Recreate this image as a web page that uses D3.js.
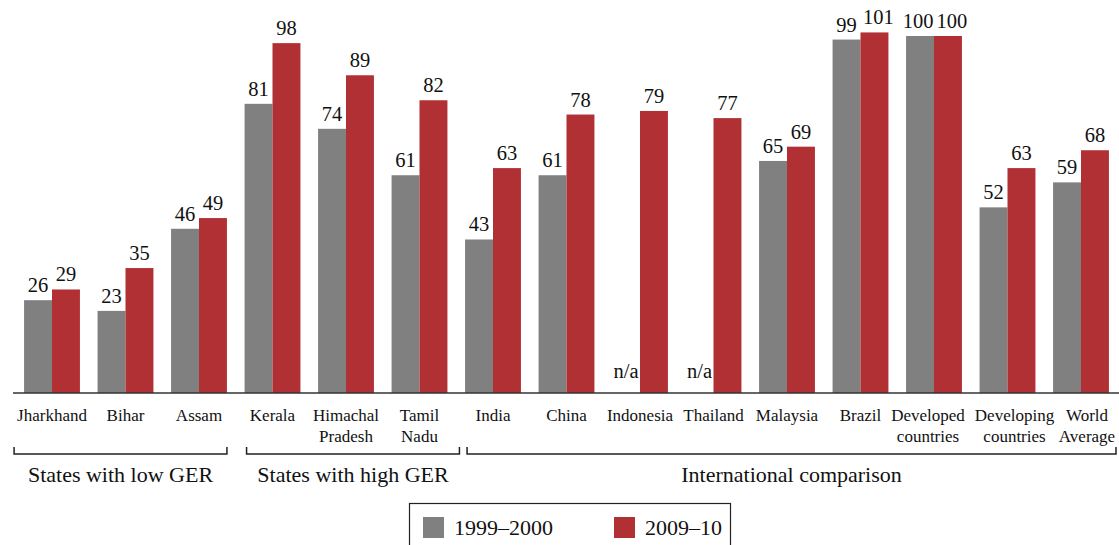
<!DOCTYPE html>
<html>
<head>
<meta charset="utf-8">
<script src="https://cdn.jsdelivr.net/npm/d3@7"></script>
<style>
  body { margin: 0; background: #fff; }
</style>
</head>
<body>
<svg id="chart" width="1119" height="545"></svg>
<script>
// categories, with line breaks for the two-line labels
categories = ["Jharkhand", "Bihar", "Assam", "Kerala", "Himachal|Pradesh", "Tamil|Nadu",
    "India", "China", "Indonesia", "Thailand", "Malaysia", "Brazil",
    "Developed|countries", "Developing|countries", "World|Average"]
ger1999 = [26, 23, 46, 81, 74, 61, 43, 61, null, null, 65, 99, 100, 52, 59]
ger2009 = [29, 35, 49, 98, 89, 82, 63, 78, 79, 77, 69, 101, 100, 63, 68]
seriesNames = ["1999\u20132000", "2009\u201310"]
groups = [
    {name: "States with low GER", from: 0, to: 2},
    {name: "States with high GER", from: 3, to: 5},
    {name: "International comparison", from: 6, to: 14}
]

var colors = ["#808080", "#b03034"]
var serif = "'Liberation Serif'"
var svg = d3.select("#chart")
var baseY = 393

var x = d3.scaleBand()
    .domain(categories)
    .range([15.25, 1117.75])
    .paddingInner(0.24)
    .paddingOuter(0.12)

var x1 = d3.scaleBand().domain([0, 1]).range([0, x.bandwidth()])

var y = d3.scaleLinear().domain([0, 100]).range([baseY, 36])

var rows = categories.map((c, i) => ({cat: c, vals: [ger1999[i], ger2009[i]]}))

var g = svg.selectAll("g.grp")
    .data(rows)
    .enter().append("g")
    .attr("class", "grp")
    .attr("transform", d => "translate(" + x(d.cat) + ",0)")

g.selectAll("rect")
    .data(d => d.vals.map((v, k) => ({v: v, k: k})).filter(e => e.v !== null))
    .enter().append("rect")
    .attr("x", e => x1(e.k))
    .attr("y", e => y(e.v))
    .attr("width", x1.bandwidth())
    .attr("height", e => baseY - y(e.v))
    .attr("fill", e => colors[e.k])

// wide 3-digit labels get pushed apart a little, like the original
g.selectAll("text.val")
    .data(d => d.vals.map((v, k) => ({v: v, k: k})))
    .enter().append("text")
    .attr("class", "val")
    .attr("x", e => x1(e.k) + x1.bandwidth() / 2 + (e.v >= 100 ? (e.k ? 4 : -2) : 0))
    .attr("y", e => e.v === null ? baseY - 15 : y(e.v) - 8)
    .attr("text-anchor", "middle")
    .style("font-family", serif)
    .style("font-size", "20.5px")
    .style("fill", "#111")
    .text(e => e.v === null ? "n/a" : e.v)

// baseline
svg.append("line")
    .attr("x1", 13).attr("x2", 1119)
    .attr("y1", baseY).attr("y2", baseY)
    .attr("stroke", "#333").attr("stroke-width", 1.5)

// category labels (last three nudged so they don't collide)
var nudge = {"Developed|countries": -6, "Developing|countries": 7, "World|Average": 6}
var lab = svg.selectAll("text.cat")
    .data(categories)
    .enter().append("text")
    .attr("class", "cat")
    .attr("text-anchor", "middle")
    .style("font-family", serif)
    .style("font-size", "17px")
    .style("fill", "#111")
    .attr("transform", d => "translate(" + (x(d) + x.bandwidth() / 2 + (nudge[d] || 0)) + ",421)")

lab.selectAll("tspan")
    .data(d => d.split("|"))
    .enter().append("tspan")
    .attr("x", 0)
    .attr("y", (d, i) => i * 21)
    .text(d => d)

// group brackets
var bw = x.bandwidth()
var bracketX = [
    [x(categories[0]) - 10, x(categories[2]) + bw],
    [x(categories[3]) + 2, x(categories[5]) + bw + 12],
    [x(categories[6]) + 2, 1116]
]
groups.forEach((gr, i) => {
    var b = bracketX[i]
    svg.append("path")
        .attr("d", "M" + b[0] + ",447V454H" + b[1] + "V447")
        .attr("fill", "none")
        .attr("stroke", "#222").attr("stroke-width", 1.5)
    svg.append("text")
        .attr("x", (b[0] + b[1]) / 2)
        .attr("y", 482)
        .attr("text-anchor", "middle")
        .style("font-family", serif)
        .style("font-size", "22px")
        .style("fill", "#111")
        .text(gr.name)
})

// legend
var leg = svg.append("g")
leg.append("rect")
    .attr("x", 409.5).attr("y", 503.5)
    .attr("width", 321).attr("height", 60)
    .attr("fill", "none").attr("stroke", "#222").attr("stroke-width", 1.2)
var legX = [423, 614]
seriesNames.forEach((s, i) => {
    leg.append("rect")
        .attr("x", legX[i]).attr("y", 517)
        .attr("width", 21).attr("height", 21)
        .attr("fill", colors[i])
    leg.append("text")
        .attr("x", legX[i] + 31).attr("y", 535)
        .style("font-family", serif)
        .style("font-size", "22px")
        .style("fill", "#111")
        .text(s)
})
</script>
</body>
</html>
